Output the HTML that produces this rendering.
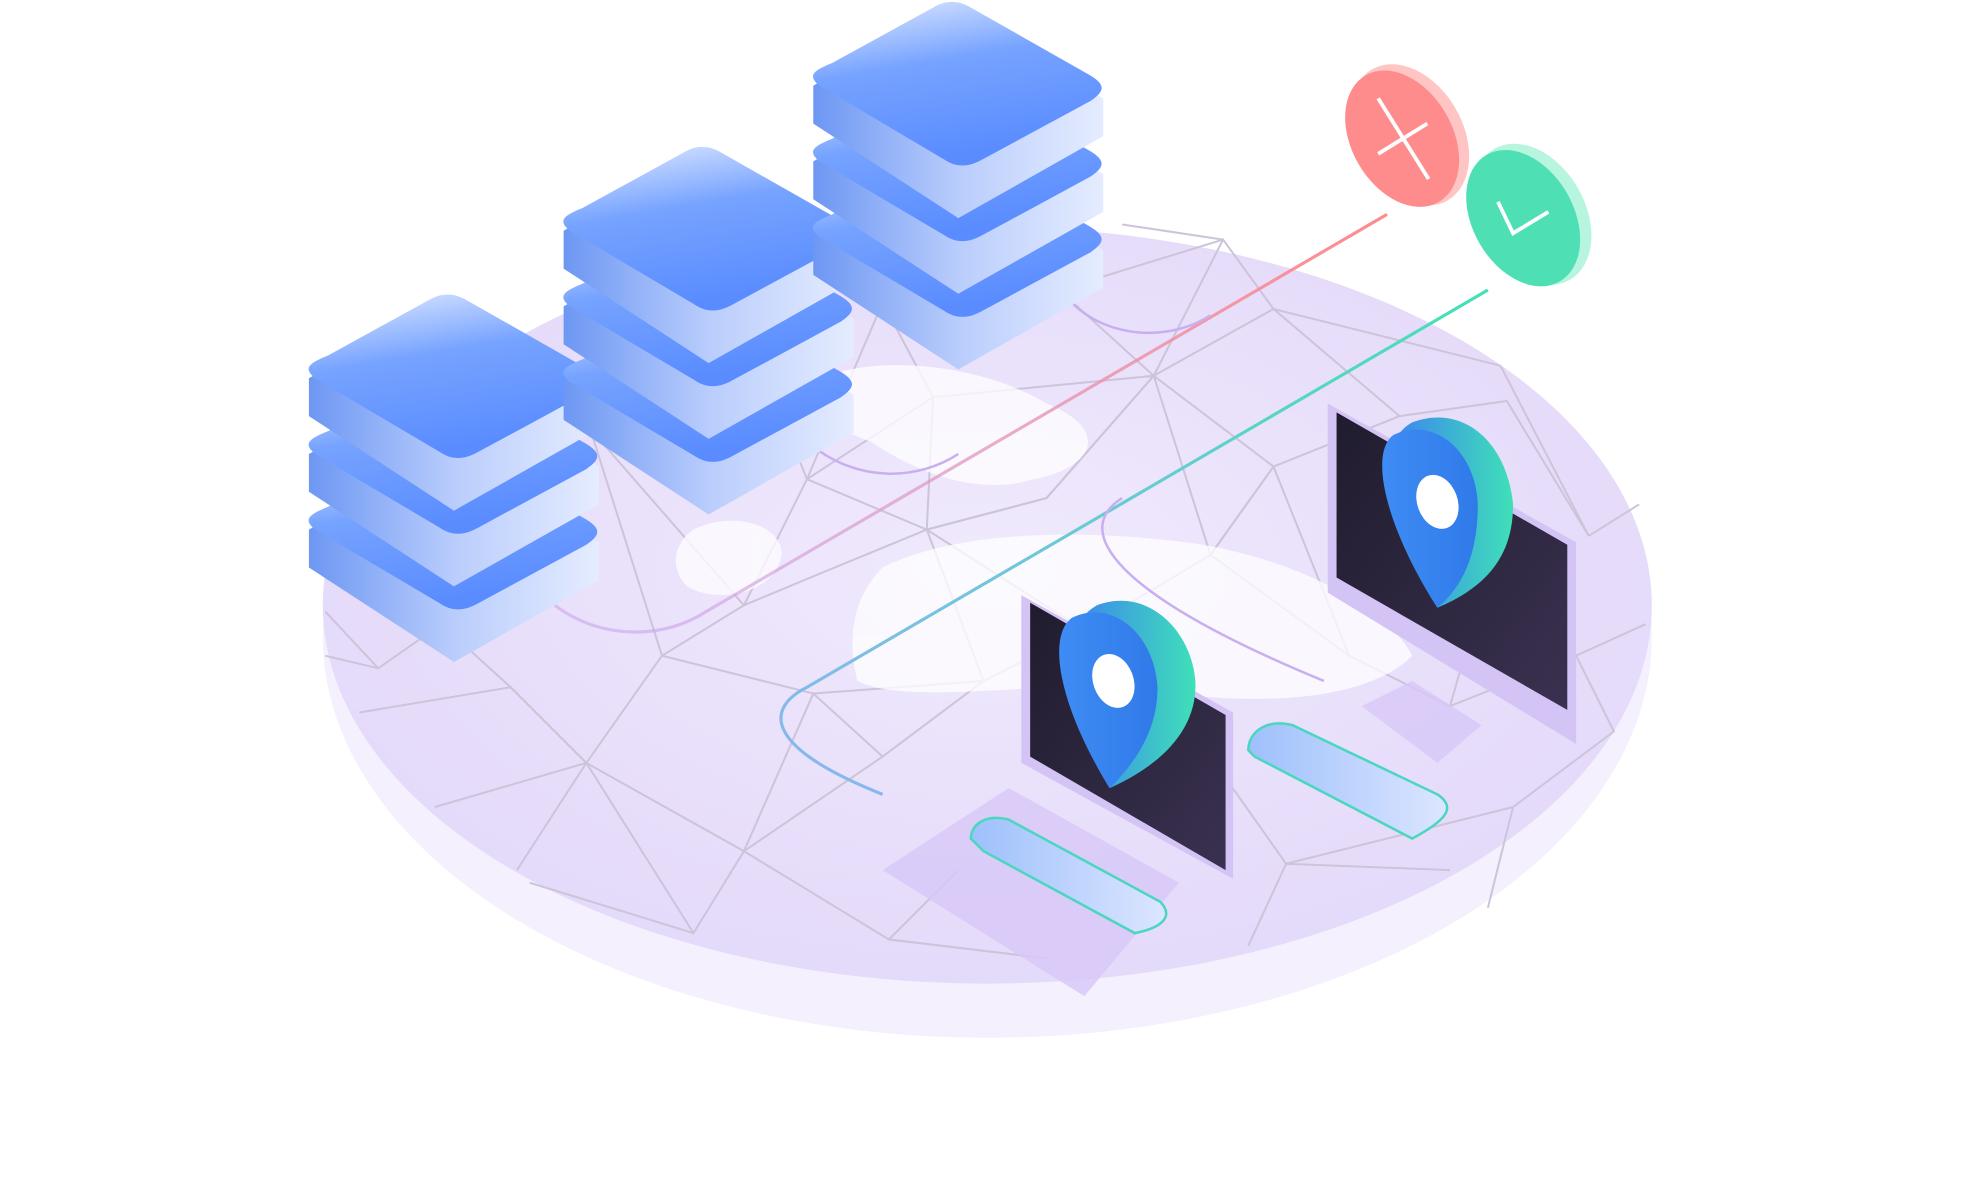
<!DOCTYPE html>
<html><head><meta charset="utf-8"><style>html,body{margin:0;padding:0;background:#fff;}svg{display:block}</style></head>
<body>
<svg width="1967" height="1191" viewBox="0 0 1560 944.5" preserveAspectRatio="none" xmlns="http://www.w3.org/2000/svg">
<defs>
<linearGradient id="srv" x1="0" y1="0" x2="0.3" y2="1"><stop offset="0" stop-color="#e4ecff"/><stop offset="0.45" stop-color="#76a3ff"/><stop offset="1" stop-color="#5a8cff"/></linearGradient>
<linearGradient id="srvside" x1="0" y1="0" x2="1" y2="0"><stop offset="0" stop-color="#6d97f3"/><stop offset="0.5" stop-color="#b9cdfc"/><stop offset="1" stop-color="#e5ecff"/></linearGradient>
<linearGradient id="pin" x1="0" y1="0" x2="1" y2="0"><stop offset="0" stop-color="#3f8cf5"/><stop offset="1" stop-color="#2f7ae8"/></linearGradient>
<linearGradient id="pinside" x1="0" y1="0" x2="1" y2="0"><stop offset="0" stop-color="#3b82f0"/><stop offset="1" stop-color="#3fe0b8"/></linearGradient>
<linearGradient id="mon" x1="0" y1="0" x2="1" y2="1"><stop offset="0" stop-color="#201c2e"/><stop offset="1" stop-color="#3a3150"/></linearGradient>
<linearGradient id="kb" x1="0" y1="0" x2="1" y2="0"><stop offset="0" stop-color="#9ec0fb"/><stop offset="1" stop-color="#dce6ff"/></linearGradient>
<linearGradient id="red" x1="0" y1="1" x2="1" y2="0"><stop offset="0" stop-color="#c8a8f0" stop-opacity="0.6"/><stop offset="1" stop-color="#ff8a8a"/></linearGradient>
<linearGradient id="grn" x1="0" y1="1" x2="1" y2="0"><stop offset="0" stop-color="#8ab6f0"/><stop offset="1" stop-color="#45e0b5"/></linearGradient>
<radialGradient id="disk" cx="0.5" cy="0.45" r="0.6"><stop offset="0" stop-color="#f0eafc"/><stop offset="1" stop-color="#e3d8fa"/></radialGradient>
</defs>
<ellipse cx="783" cy="505" rx="527" ry="318" fill="#f4f0fd"/>
<ellipse cx="783" cy="480" rx="527" ry="300" fill="url(#disk)"/>
<g stroke="#cdc4da" stroke-width="1.6" fill="none">
<path d="M258,485 L300,530 L350,495 L405,545 L465,605 L525,520 L590,480 L650,455 L735,420 L830,395 L915,298 L970,190 L1010,245 L1190,290"/>
<path d="M285,565 L405,545 L465,605 L410,690 M465,605 L590,675 L700,600 L780,540 L860,500 L960,440 L1010,370 L1110,330 L1195,318 L1260,425"/>
<path d="M345,640 L465,605 L550,740 L590,675 L705,745 L760,690 M590,675 L645,550 L700,600 M525,520 L645,550 L780,540 L735,420 L640,380 L590,480"/>
<path d="M468,340 L590,480 M468,340 L525,520 M468,340 L360,420 M640,380 L740,315 L735,420 L860,500 M740,315 L915,298 L1010,370 L960,440 L915,298 L830,395 L735,420"/>
<path d="M915,298 L1010,245 L1110,330 M915,298 L840,230 L700,240 L740,315 M840,230 L970,190 L890,178 M700,240 L640,380 L600,280"/>
<path d="M960,440 L1070,520 L1150,560 L1250,520 L1280,580 L1200,640 L1020,685 L990,750 M1020,685 L1150,690 M1020,685 L960,600 L860,500 M1200,640 L1180,720 M1250,520 L1305,495 M1260,425 L1300,400"/>
<path d="M705,745 L830,760 M550,740 L420,700 M300,530 L258,520 M1070,520 L1010,370 M1150,560 L1190,420 M1190,290 L1260,425"/>
</g>
<g fill="#ffffff" opacity="0.75">
<path d="M650,300 C700,280 780,290 830,320 C880,340 870,370 820,380 C770,395 720,370 690,350 C660,340 640,320 650,300Z"/>
<path d="M700,450 C760,420 860,420 940,430 C1020,440 1100,480 1120,520 C1080,560 980,560 900,545 C820,540 720,560 680,540 C670,500 680,470 700,450Z"/>
<path d="M550,420 C580,405 620,415 620,440 C615,470 570,480 545,465 C530,450 535,430 550,420Z"/>
</g>
<!-- curves -->
<path d="M440,480 C480,510 530,505 560,485 L1100,170" stroke="url(#red)" stroke-width="2.5" fill="none"/>
<path d="M700,630 C600,590 610,560 640,545 L1180,230" stroke="url(#grn)" stroke-width="2.5" fill="none"/>
<path d="M640,350 C680,385 730,380 760,360" stroke="#c8b0f0" stroke-width="2" fill="none"/>
<path d="M1050,540 C880,470 850,420 890,395" stroke="#c8b0f0" stroke-width="2" fill="none"/>
<path d="M850,240 C880,270 930,270 960,250" stroke="#c8b0f0" stroke-width="2" fill="none"/>
<!-- status circles -->
<ellipse cx="1118" cy="107" rx="42" ry="60" transform="rotate(-30 1118 107)" fill="#ffc4c4"/>
<ellipse cx="1112" cy="110" rx="40" ry="58" transform="rotate(-30 1112 110)" fill="#ff8c8c"/>
<path d="M1093,78 L1133,142 M1093,122 L1132,98" stroke="#fff" stroke-width="3"/>
<ellipse cx="1215" cy="170" rx="42" ry="60" transform="rotate(-30 1215 170)" fill="#b8f5df"/>
<ellipse cx="1208" cy="173" rx="40" ry="58" transform="rotate(-30 1208 173)" fill="#4ee0b4"/>
<path d="M1188,160 L1200,185 L1228,168" stroke="#fff" stroke-width="3" fill="none"/>
<!-- servers -->
<g id="stk">
<g transform="translate(0,120)"><path d="M245,330 L245,300 L350,240 L475,310 L475,340 L360,405 Z" fill="url(#srvside)"/><path d="M250,300 C240,292 245,288 260,282 L340,238 C350,232 360,232 370,238 L465,292 C478,300 475,305 465,312 L380,358 C368,365 358,365 348,358 Z" fill="url(#srv)"/></g>
<g transform="translate(0,60)"><path d="M245,330 L245,300 L350,240 L475,310 L475,340 L360,405 Z" fill="url(#srvside)"/><path d="M250,300 C240,292 245,288 260,282 L340,238 C350,232 360,232 370,238 L465,292 C478,300 475,305 465,312 L380,358 C368,365 358,365 348,358 Z" fill="url(#srv)"/></g>
<path d="M245,330 L245,300 L350,240 L475,310 L475,340 L360,405 Z" fill="url(#srvside)"/><path d="M250,300 C240,292 245,288 260,282 L340,238 C350,232 360,232 370,238 L465,292 C478,300 475,305 465,312 L380,358 C368,365 358,365 348,358 Z" fill="url(#srv)"/>
</g>
<use href="#stk" transform="translate(202,-117)"/>
<use href="#stk" transform="translate(400,-232)"/>
<!-- monitor 1 -->
<path d="M700,690 L800,625 L935,700 L860,790 Z" fill="#d7c7f7" opacity="0.8"/>
<path d="M770,665 C770,655 780,645 800,650 L920,715 C930,725 925,735 900,740 L780,675 Z" fill="url(#kb)" stroke="#4bd6c0" stroke-width="2"/>
<path d="M810,472 L978,565 L978,697 L810,605 Z" fill="#d4c4f5"/>
<path d="M817,478 L972,567 L972,690 L817,600 Z" fill="url(#mon)"/>
<path d="M880,625 C840,560 835,500 870,480 C910,465 945,500 948,540 C950,575 925,605 880,625Z" fill="url(#pinside)"/>
<path d="M880,625 C840,560 830,505 850,490 C880,475 915,500 918,545 C918,580 900,605 880,625Z" fill="url(#pin)"/>
<ellipse cx="883" cy="540" rx="16" ry="22" transform="rotate(-20 883 540)" fill="#fff"/>
<!-- monitor 2 -->
<path d="M1080,560 L1120,540 L1175,575 L1140,605 Z" fill="#d7c7f7" opacity="0.8"/>
<path d="M990,595 C990,580 1005,570 1025,575 L1140,630 C1155,640 1148,650 1120,665 L995,600 Z" fill="url(#kb)" stroke="#4bd6c0" stroke-width="2"/>
<path d="M1053,320 L1250,430 L1250,590 L1053,470 Z" fill="#d4c4f5"/>
<path d="M1060,327 L1243,432 L1243,563 L1060,458 Z" fill="url(#mon)"/>
<path d="M1140,482 C1100,420 1085,355 1120,335 C1160,320 1195,350 1200,400 C1200,440 1180,465 1140,482Z" fill="url(#pinside)"/>
<path d="M1140,482 C1100,420 1085,360 1105,345 C1135,330 1170,355 1172,400 C1172,440 1160,465 1140,482Z" fill="url(#pin)"/>
<ellipse cx="1140" cy="398" rx="16" ry="22" transform="rotate(-20 1140 398)" fill="#fff"/>
</svg>
</body></html>
